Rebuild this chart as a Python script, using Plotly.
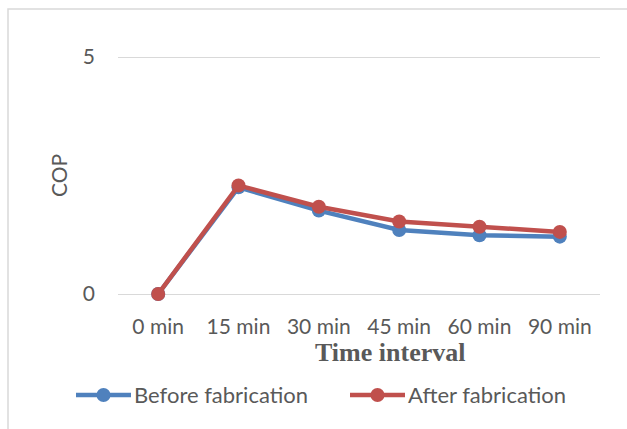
import plotly.graph_objects as go

# Time intervals and measured COP values
intervals = ["0 min", "15 min", "30 min", "45 min", "60 min", "90 min"]
cop_before = [0.0, 2.25, 1.76, 1.35, 1.24, 1.21]
cop_after = [0.0, 2.29, 1.84, 1.53, 1.42, 1.31]
y_ticks = [0, 5]

BLUE = "#4F81BD"
RED = "#C0504D"
GREY_TEXT = "#595959"
GRID = "#D9D9D9"
SANS = "Lato"

W, H = 627, 429
# plot area: y=5 at 57 px, y=0 at 294 px, with 2 px padding so edge gridlines render
PAD = 2
L, R, T, B = 118, 27, 57 - PAD, 135 - PAD
PW, PH = W - L - R, H - T - B
UNIT = (294 - 57) / 5.0
YPAD = PAD / UNIT


def px_x(x):
    return (x - L) / PW


def px_y(y):
    return (H - B - y) / PH


fig = go.Figure()
for name, vals, col in [("Before fabrication", cop_before, BLUE),
                        ("After fabrication", cop_after, RED)]:
    fig.add_trace(go.Scatter(
        x=intervals, y=vals, name=name, mode="lines+markers",
        line=dict(color=col, width=4.5),
        marker=dict(color=col, size=14),
        cliponaxis=False, showlegend=False,
    ))

shapes = [
    # outer chart frame
    dict(type="rect", xref="paper", yref="paper",
         x0=px_x(8), x1=px_x(700), y0=px_y(9), y1=px_y(520),
         line=dict(color=GRID, width=1.5), fillcolor="rgba(0,0,0,0)", layer="below"),
]
annotations = [
    dict(text="COP", xref="paper", yref="paper", x=px_x(58), y=px_y(176),
         textangle=-90, showarrow=False, xanchor="center", yanchor="middle",
         font=dict(family=SANS, size=21, color=GREY_TEXT)),
    dict(text="<b>Time interval</b>", xref="paper", yref="paper",
         x=px_x(390), y=px_y(352), showarrow=False,
         xanchor="center", yanchor="middle",
         font=dict(family="Liberation Serif", size=26, color=GREY_TEXT)),
]

# legend entries
for name, col, lx0, lx1, tx in [("Before fabrication", BLUE, 76, 131, 132),
                                ("After fabrication", RED, 350, 405, 406)]:
    ly = 395
    shapes.append(dict(type="line", xref="paper", yref="paper",
                       x0=px_x(lx0), x1=px_x(lx1), y0=px_y(ly), y1=px_y(ly),
                       line=dict(color=col, width=4.5)))
    cx = (lx0 + lx1) / 2
    shapes.append(dict(type="circle", xref="paper", yref="paper",
                       x0=px_x(cx - 7), x1=px_x(cx + 7),
                       y0=px_y(ly - 7), y1=px_y(ly + 7),
                       fillcolor=col, line=dict(color=col, width=0)))
    annotations.append(dict(text=name, xref="paper", yref="paper",
                            x=px_x(tx), y=px_y(ly), showarrow=False,
                            xanchor="left", yanchor="middle",
                            font=dict(family=SANS, size=22, color=GREY_TEXT)))

fig.update_layout(
    width=W, height=H,
    margin=dict(l=L, r=R, t=T, b=B),
    paper_bgcolor="white", plot_bgcolor="white",
    shapes=shapes, annotations=annotations,
    xaxis=dict(type="category", range=[-0.5, 5.5], showgrid=False,
               showline=False, zeroline=False, ticks="",
               ticklabelstandoff=16,
               tickfont=dict(family=SANS, size=21, color=GREY_TEXT)),
    yaxis=dict(range=[-YPAD, 5 + YPAD], tickvals=y_ticks, showgrid=True,
               gridcolor=GRID, gridwidth=1.2, zeroline=False, showline=False,
               ticks="", ticklabelstandoff=22,
               tickfont=dict(family=SANS, size=21, color=GREY_TEXT)),
)

fig.write_html("out.html")
